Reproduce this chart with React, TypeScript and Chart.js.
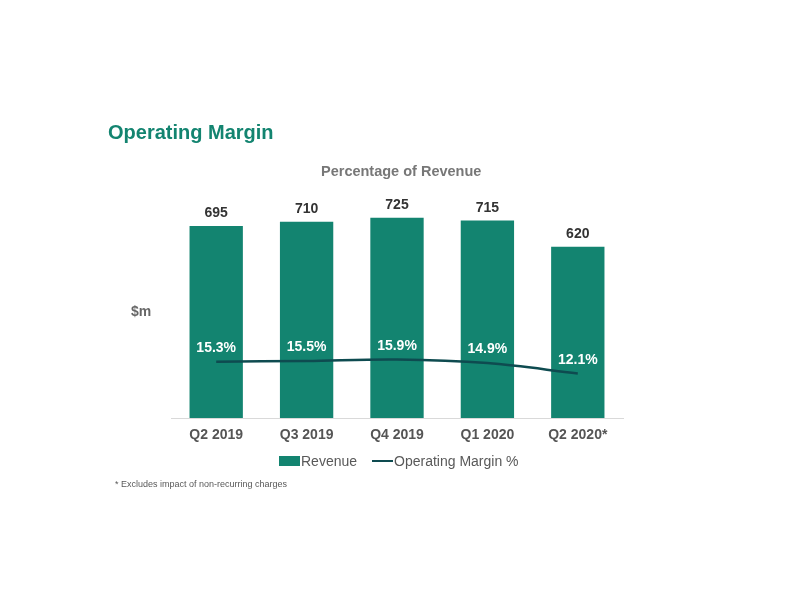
import React, { useEffect, useRef } from "react";
import { Chart, registerables } from "chart.js";

Chart.register(...registerables);

const categories = ["Q2 2019", "Q3 2019", "Q4 2019", "Q1 2020", "Q2 2020*"];
const revenue = [695, 710, 725, 715, 620];
const margin = [15.3, 15.5, 15.9, 14.9, 12.1];

const BAR = "#138470";
const LINE = "#0e4b50";
const FONT = "Liberation Sans, Arial, sans-serif";

const labelPlugin = {
  id: "valueLabels",
  afterDatasetsDraw(chart: any) {
    const ctx = chart.ctx;
    ctx.save();
    ctx.textAlign = "center";
    ctx.textBaseline = "middle";
    const barMeta = chart.getDatasetMeta(0);
    ctx.font = `bold 14px ${FONT}`;
    ctx.fillStyle = "#333333";
    barMeta.data.forEach((el: any, i: number) => {
      ctx.fillText(String(revenue[i]), el.x, el.y - 12.5);
    });
    const lineMeta = chart.getDatasetMeta(1);
    ctx.fillStyle = "#ffffff";
    lineMeta.data.forEach((el: any, i: number) => {
      ctx.fillText(margin[i].toFixed(1) + "%", el.x, el.y - 13.5);
    });
    ctx.restore();
  },
};

export default function App() {
  const ref = useRef<HTMLCanvasElement | null>(null);
  useEffect(() => {
    if (!ref.current) return;
    const chart = new Chart(ref.current, {
      type: "bar",
      data: {
        labels: categories,
        datasets: [
          {
            type: "bar",
            label: "Revenue",
            data: revenue,
            backgroundColor: BAR,
            yAxisID: "y",
            categoryPercentage: 1,
            barPercentage: 0.59,
            order: 2,
          },
          {
            type: "line",
            label: "Operating Margin %",
            data: margin,
            borderColor: LINE,
            borderWidth: 2.5,
            pointRadius: 0,
            tension: 0.35,
            yAxisID: "y2",
            order: 1,
          } as any,
        ],
      },
      options: {
        animation: false,
        responsive: false,
        maintainAspectRatio: false,
        layout: { padding: { left: 171, right: 169, top: 197, bottom: 164 } },
        plugins: { legend: { display: false }, tooltip: { enabled: false } },
        scales: {
          x: {
            grid: { display: false, drawTicks: false },
            border: { display: true, color: "#d9d9d9", width: 1 },
            ticks: {
              color: "#555555",
              font: { family: FONT, size: 14, weight: "bold" },
              padding: 9,
            },
            afterFit: (s: any) => {
              s.height = 30;
            },
          },
          y: { display: false, min: 0, max: 800 },
          y2: { display: false, min: 0, max: 60, position: "right" },
        },
      },
      plugins: [labelPlugin],
    });
    return () => chart.destroy();
  }, []);

  const text = (style: React.CSSProperties, content: React.ReactNode) => (
    <div style={{ position: "absolute", fontFamily: FONT, whiteSpace: "nowrap", ...style }}>{content}</div>
  );

  return (
    <div style={{ position: "fixed", left: 0, top: 0, width: 792, height: 612, background: "#fff" }}>
      <canvas ref={ref} width={792} height={612} style={{ position: "absolute", left: 0, top: 0 }} />
      {text({ left: 108, top: 121, fontSize: 20, fontWeight: "bold", color: BAR }, "Operating Margin")}
      {text({ left: 321, top: 163, fontSize: 14.5, fontWeight: "bold", color: "#777777" }, "Percentage of Revenue")}
      {text({ left: 131, top: 303, fontSize: 14, fontWeight: "bold", color: "#666666" }, "$m")}
      {text(
        { left: 279, top: 453, fontSize: 14, color: "#595959", display: "flex", alignItems: "center" },
        <>
          <span style={{ display: "inline-block", width: 21, height: 10, background: BAR, marginRight: 1 }} />
          <span>Revenue</span>
          <span style={{ display: "inline-block", width: 21, height: 2.5, background: LINE, marginLeft: 15, marginRight: 1 }} />
          <span>Operating Margin %</span>
        </>
      )}
      {text({ left: 115, top: 479, fontSize: 9, color: "#595959" }, "* Excludes impact of non-recurring charges")}
    </div>
  );
}
